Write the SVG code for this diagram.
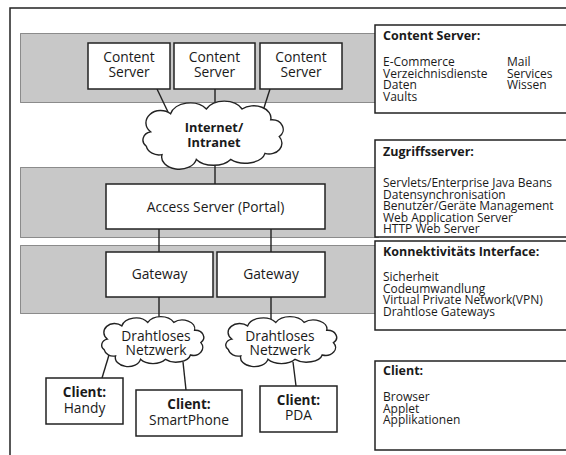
<svg xmlns="http://www.w3.org/2000/svg" width="566" height="455" viewBox="0 0 566 455">
  <style>
    .band { fill: #c8c8c8; stroke: #333; stroke-width: 1; stroke-dasharray: 1 1; }
    .box { fill: #fff; stroke: #222; stroke-width: 1.5; }
    .panel { fill: #fff; stroke: #222; stroke-width: 1.5; }
    .cloud { fill: #fff; stroke: #222; stroke-width: 1.4; }
    .wire { stroke: #222; stroke-width: 1.4; fill: none; }
    text { font-family: "Open Sans", "Noto Sans", "DejaVu Sans", sans-serif; fill: #1a1a1a; }
    .lbl { font-size: 13.8px; text-anchor: middle; }
    .lblb { font-size: 13.5px; text-anchor: middle; font-weight: bold; }
    .net { font-size: 12.8px; text-anchor: middle; font-weight: bold; }
    .head { font-size: 12.5px; font-weight: bold; }
    .item { font-size: 12px; }
  </style>
  <defs>
    <!-- unit cloud outline in a 100 x 50 box -->
    <path id="cloudShape" vector-effect="non-scaling-stroke" d="M 6,24 A 9 9 0 0 1 20,9 A 14 12 0 0 1 45,5 A 14 12 0 0 1 70,5 A 12 10 0 0 1 90,14 A 8 8 0 0 1 96,28 A 9 9 0 0 1 86,42 A 14 10 0 0 1 62,47 A 14 10 0 0 1 38,47 A 12 10 0 0 1 14,43 A 9 9 0 0 1 3,36 A 7 7 0 0 1 6,24 Z"/>
  </defs>

  <!-- outer frame -->
  <rect x="10" y="8" width="600" height="500" fill="#fff" stroke="#222" stroke-width="1.5"/>

  <!-- layer bands -->
  <rect class="band" x="20.5" y="33.5" width="358" height="69"/>
  <rect class="band" x="20.5" y="167.5" width="358" height="70"/>
  <rect class="band" x="20.5" y="245.5" width="358" height="68"/>

  <!-- connectors -->
  <g id="connectors">
    <line class="wire" x1="157" y1="89" x2="168" y2="112"/>
    <line class="wire" x1="215" y1="89" x2="215" y2="108"/>
    <line class="wire" x1="270" y1="89" x2="262" y2="114"/>
    <line class="wire" x1="215" y1="158" x2="215" y2="184"/>
    <line class="wire" x1="159" y1="229" x2="159" y2="252"/>
    <line class="wire" x1="271" y1="229" x2="271" y2="252"/>
    <line class="wire" x1="159" y1="297" x2="159" y2="322"/>
    <line class="wire" x1="271" y1="297" x2="271" y2="322"/>
    <line class="wire" x1="109" y1="355" x2="102" y2="378"/>
    <line class="wire" x1="183" y1="362" x2="186" y2="390"/>
    <line class="wire" x1="293" y1="362" x2="296" y2="386"/>
  </g>

  <!-- content servers -->
  <g id="content1">
    <rect class="box" x="88" y="43" width="82" height="46"/>
    <text class="lbl" x="129" y="62">Content</text>
    <text class="lbl" x="129" y="77">Server</text>
  </g>
  <g id="content2">
    <rect class="box" x="174" y="43" width="81" height="46"/>
    <text class="lbl" x="214.5" y="62">Content</text>
    <text class="lbl" x="214.5" y="77">Server</text>
  </g>
  <g id="content3">
    <rect class="box" x="260" y="43" width="82" height="46"/>
    <text class="lbl" x="301" y="62">Content</text>
    <text class="lbl" x="301" y="77">Server</text>
  </g>

  <!-- internet cloud -->
  <g id="internet">
    <use href="#cloudShape" class="cloud" transform="translate(142,103) scale(1.43,1.2)"/>
    <text class="net" x="214" y="132">Internet/</text>
    <text class="net" x="214" y="147">Intranet</text>
  </g>

  <!-- access server -->
  <g id="access">
    <rect class="box" x="106" y="184" width="219" height="45"/>
    <text class="lbl" x="215.5" y="211.5">Access Server (Portal)</text>
  </g>

  <!-- gateways -->
  <g id="gateway1">
    <rect class="box" x="106" y="252" width="107" height="45"/>
    <text class="lbl" x="159.5" y="279">Gateway</text>
  </g>
  <g id="gateway2">
    <rect class="box" x="217" y="252" width="108" height="45"/>
    <text class="lbl" x="271" y="279">Gateway</text>
  </g>

  <!-- wireless networks -->
  <g id="wireless1">
    <use href="#cloudShape" class="cloud" transform="translate(101,318) scale(1.04,0.88)"/>
    <text class="lbl" x="156" y="341">Drahtloses</text>
    <text class="lbl" x="156" y="355">Netzwerk</text>
  </g>
  <g id="wireless2">
    <use href="#cloudShape" class="cloud" transform="translate(225,318) scale(1.13,0.88)"/>
    <text class="lbl" x="280" y="341">Drahtloses</text>
    <text class="lbl" x="280" y="355">Netzwerk</text>
  </g>

  <!-- clients -->
  <g id="clientHandy">
    <rect class="box" x="46" y="378" width="77" height="46"/>
    <text class="lblb" x="84.5" y="397">Client:</text>
    <text class="lbl" x="84.5" y="413">Handy</text>
  </g>
  <g id="clientSmartPhone">
    <rect class="box" x="136" y="390" width="106" height="46"/>
    <text class="lblb" x="189" y="409">Client:</text>
    <text class="lbl" x="189" y="425">SmartPhone</text>
  </g>
  <g id="clientPDA">
    <rect class="box" x="260" y="386" width="77" height="46"/>
    <text class="lblb" x="298.5" y="405">Client:</text>
    <text class="lbl" x="298.5" y="420">PDA</text>
  </g>

  <!-- legend panels -->
  <g id="panelContent">
    <rect class="panel" x="375" y="25" width="200" height="88"/>
    <text class="head" x="383" y="40">Content Server:</text>
    <text class="item" x="383" y="66">E-Commerce</text>
    <text class="item" x="383" y="77.5">Verzeichnisdienste</text>
    <text class="item" x="383" y="89">Daten</text>
    <text class="item" x="383" y="100.5">Vaults</text>
    <text class="item" x="507" y="66">Mail</text>
    <text class="item" x="507" y="77.5">Services</text>
    <text class="item" x="507" y="89">Wissen</text>
  </g>
  <g id="panelAccess">
    <rect class="panel" x="375" y="140" width="200" height="97"/>
    <text class="head" x="383" y="156">Zugriffsserver:</text>
    <text class="item" x="383" y="187">Servlets/Enterprise Java Beans</text>
    <text class="item" x="383" y="198.5">Datensynchronisation</text>
    <text class="item" x="383" y="210">Benutzer/Geräte Management</text>
    <text class="item" x="383" y="221.5">Web Application Server</text>
    <text class="item" x="383" y="233">HTTP Web Server</text>
  </g>
  <g id="panelConnectivity">
    <rect class="panel" x="375" y="241" width="200" height="89"/>
    <text class="head" x="383" y="256">Konnektivitäts Interface:</text>
    <text class="item" x="383" y="281">Sicherheit</text>
    <text class="item" x="383" y="292.5">Codeumwandlung</text>
    <text class="item" x="383" y="304">Virtual Private Network(VPN)</text>
    <text class="item" x="383" y="315.5">Drahtlose Gateways</text>
  </g>
  <g id="panelClient">
    <rect class="panel" x="375" y="361" width="200" height="89"/>
    <text class="head" x="383" y="375">Client:</text>
    <text class="item" x="383" y="401">Browser</text>
    <text class="item" x="383" y="412.5">Applet</text>
    <text class="item" x="383" y="424">Applikationen</text>
  </g>
</svg>
